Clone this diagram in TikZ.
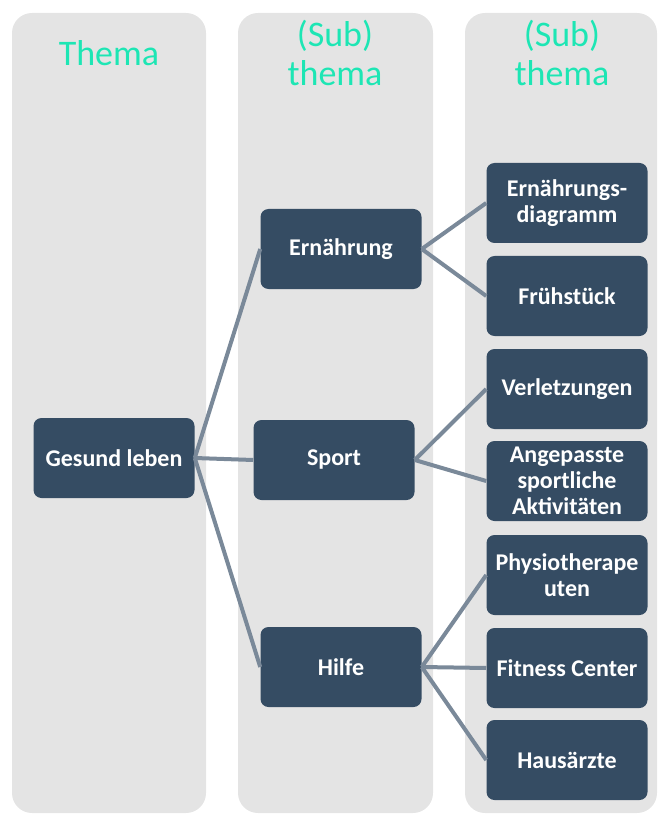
\documentclass[tikz,border=0pt]{standalone}
\usepackage{fontspec}
\setmainfont{Carlito}
\definecolor{panelgray}{RGB}{228,228,228}
\definecolor{boxblue}{RGB}{53,76,99}
\definecolor{linkgray}{RGB}{122,137,153}
\definecolor{headteal}{RGB}{29,230,180}
\begin{document}
\begin{tikzpicture}[x=0.75pt,y=-0.75pt,
    box/.style={rectangle,rounded corners=6pt,fill=boxblue,text=white,
      font=\bfseries\fontsize{18}{19.5}\selectfont,align=center,
      minimum width=120.75pt,minimum height=60pt,inner sep=2pt},
    link/.style={draw=linkgray,line width=3pt},
    panel/.style={fill=panelgray,rounded corners=15pt},
    head/.style={text=headteal,font=\fontsize{27}{28.7}\selectfont,align=center}]
    \useasboundingbox (0,0) rectangle (659,816);
%    columns
    \fill[panel] (12,13) rectangle (206,813);
    \fill[panel] (238,13) rectangle (433,813);
    \fill[panel] (465,13) rectangle (657,813);
    \node (h1) at (109,66) [head,anchor=base] {Thema};
    \node (h2) at (335,53) [head] {(Sub)\\thema};
    \node (h3) at (562,53) [head] {(Sub)\\thema};
%    tree
    \node (root) at (114,458) [box] {Gesund leben};
    \node (ern) at (341,249) [box] {Ernährung};
    \node (spo) at (334,460) [box] {Sport};
    \node (hil) at (341,667) [box] {Hilfe};
    \node (ern1) at (567,203) [box] {Ernährungs-\\diagramm};
    \node (ern2) at (567,296) [box] {Frühstück};
    \node (spo1) at (567,389) [box] {Verletzungen};
    \node (spo2) at (567,481) [box] {Angepasste\\sportliche\\Aktivitäten};
    \node (hil1) at (567,575) [box] {Physiotherape\\uten};
    \node (hil2) at (567,668) [box] {Fitness Center};
    \node (hil3) at (567,760) [box] {Hausärzte};
    \draw[link] (root.east) -- (ern.west);
    \draw[link] (root.east) -- (spo.west);
    \draw[link] (root.east) -- (hil.west);
\draw[link] (ern.east) -- (ern1.west);
\draw[link] (ern.east) -- (ern2.west);
\draw[link] (spo.east) -- (spo1.west);
\draw[link] (spo.east) -- (spo2.west);
\draw[link] (hil.east) -- (hil1.west);
\draw[link] (hil.east) -- (hil2.west);
\draw[link] (hil.east) -- (hil3.west);
\end{tikzpicture}
\end{document}
